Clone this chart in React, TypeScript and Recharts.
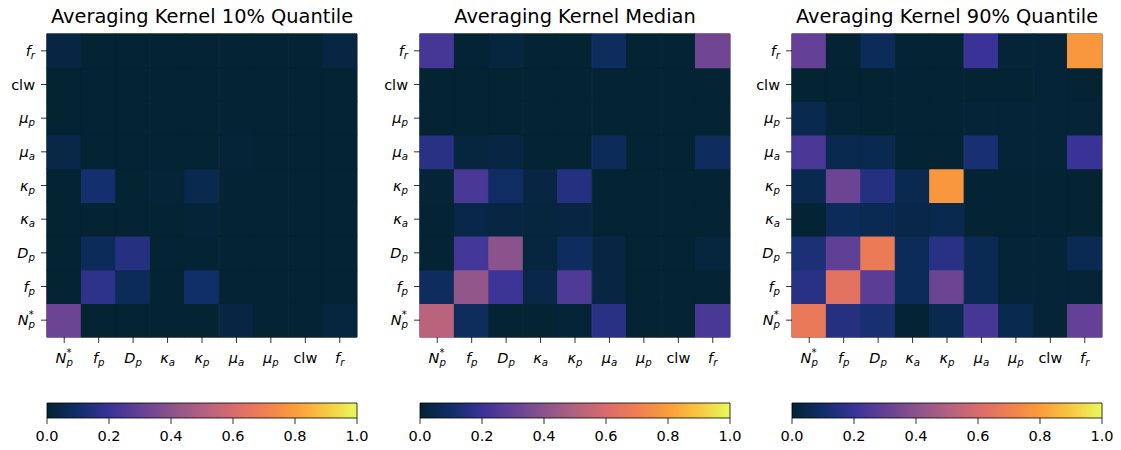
import React from "react";
import { BarChart, Bar, Cell, XAxis, YAxis, ReferenceArea, ComposedChart, Line } from "recharts";

// parameter order along both axes (x: left->right, y: bottom->top)
const PARAMS = ["Np*", "fp", "Dp", "ka", "kp", "ua", "up", "clw", "fr"];

// averaging kernel values, rows follow PARAMS (bottom row first), columns follow PARAMS
const q10Rows: number[][] = [
	[0.32, 0, 0, 0, 0, 0.03, 0, 0, 0.02], // Np*
	[0, 0.17, 0.07, 0, 0.1, 0, 0, 0, 0], // fp
	[0, 0.07, 0.15, 0, 0, 0, 0, 0, 0], // Dp
	[0, 0, 0, 0, 0.01, 0, 0, 0, 0], // ka
	[0, 0.11, 0, 0.01, 0.05, 0, 0, 0, 0], // kp
	[0.04, 0, 0, 0, 0, 0.01, 0, 0, 0], // ua
	[0, 0, 0, 0, 0, 0, 0, 0, 0], // up
	[0, 0, 0, 0, 0, 0, 0, 0, 0], // clw
	[0.03, 0, 0, 0, 0, 0, 0, 0, 0.03], // fr
];

const medianRows: number[][] = [
	[0.52, 0.08, 0, 0, 0.01, 0.16, 0, 0, 0.24],
	[0.08, 0.42, 0.21, 0.04, 0.25, 0.03, 0, 0, 0],
	[0, 0.22, 0.4, 0.02, 0.08, 0.03, 0, 0, 0.02],
	[0, 0.04, 0.03, 0.02, 0.03, 0, 0, 0, 0],
	[0.01, 0.24, 0.09, 0.03, 0.15, 0, 0, 0, 0],
	[0.16, 0.02, 0.03, 0, 0, 0.07, 0, 0, 0.08],
	[0, 0, 0, 0, 0, 0, 0, 0, 0],
	[0, 0, 0, 0, 0, 0, 0, 0, 0],
	[0.23, 0, 0.02, 0, 0, 0.08, 0, 0, 0.33],
];

const q90Rows: number[][] = [
	[0.67, 0.15, 0.12, 0, 0.05, 0.23, 0.05, 0.01, 0.3],
	[0.16, 0.64, 0.28, 0.07, 0.32, 0.06, 0.01, 0.01, 0.01],
	[0.13, 0.29, 0.68, 0.07, 0.16, 0.06, 0.01, 0.01, 0.06],
	[0, 0.07, 0.06, 0.04, 0.05, 0, 0, 0, 0],
	[0.05, 0.32, 0.15, 0.05, 0.78, 0, 0, 0, 0],
	[0.24, 0.05, 0.05, 0, 0, 0.12, 0.01, 0.01, 0.2],
	[0.05, 0.01, 0, 0, 0, 0.01, 0.01, 0.01, 0.01],
	[0, 0, 0, 0, 0, 0, 0, 0.01, 0],
	[0.3, 0, 0.07, 0, 0, 0.2, 0.01, 0.01, 0.78],
];

const CBAR_TICKS = [0, 0.2, 0.4, 0.6, 0.8, 1.0];
const Y_TICKS = [0.5, 1.5, 2.5, 3.5, 4.5, 5.5, 6.5, 7.5, 8.5];

// approximation of the cmocean "thermal" map
const THERMAL: [number, number, number][] = [
	[4, 35, 51],
	[16, 46, 104],
	[57, 51, 152],
	[100, 64, 150],
	[139, 83, 140],
	[178, 97, 128],
	[216, 107, 108],
	[240, 127, 80],
	[250, 157, 58],
	[246, 200, 66],
	[232, 250, 91],
];

function thermal(v: number) {
	const t = Math.max(0, Math.min(1, v)) * (THERMAL.length - 1);
	const i = Math.min(Math.floor(t), THERMAL.length - 2);
	const f = t - i;
	const c = THERMAL[i].map((a, k) => Math.round(a + (THERMAL[i + 1][k] - a) * f));
	return `rgb(${c[0]},${c[1]},${c[2]})`;
}

type Lbl = { base: string; sub?: string; sup?: string; italic: boolean };
const TICK_LABELS: Lbl[] = [
	{ base: "N", sub: "p", sup: "*", italic: true },
	{ base: "f", sub: "p", italic: true },
	{ base: "D", sub: "p", italic: true },
	{ base: "κ", sub: "a", italic: true },
	{ base: "κ", sub: "p", italic: true },
	{ base: "μ", sub: "a", italic: true },
	{ base: "μ", sub: "p", italic: true },
	{ base: "clw", italic: false },
	{ base: "f", sub: "r", italic: true },
];

const FONT = "DejaVu Sans";
const TICK_FS = 14.5;

function MathTick(props: any) {
	const { x, y, payload, side } = props;
	const idx = side === "x" ? PARAMS.indexOf(payload.value) : Math.round(payload.value - 0.5);
	const l = TICK_LABELS[idx];
	if (!l) return null;
	const tx = side === "x" ? x : x - 6;
	const ty = side === "x" ? y + 20 : y + 5;
	return (
		<text x={tx} y={ty} textAnchor={side === "x" ? "middle" : "end"} fontFamily={FONT} fontSize={TICK_FS} fill="#000">
			<tspan fontStyle={l.italic ? "italic" : "normal"}>{l.base}</tspan>
			{l.sub && <tspan fontSize={10.2} fontStyle="italic" dy={3}>{l.sub}</tspan>}
			{l.sup && <tspan fontSize={10.2} dx={-6.3} dy={-10}>{l.sup}</tspan>}
		</text>
	);
}

const tickLine = { stroke: "#000", strokeWidth: 0.8 };

function KernelPanel({ title, rows, left }: { title: string; rows: number[][]; left: number }) {
	const data = PARAMS.map((name) => {
		const d: any = { name };
		rows.forEach((_, i) => { d[`u${i}`] = 1; });
		return d;
	});
	return (
		<div style={{ position: "absolute", left: left - 47, top: 0, width: 362, height: 380 }}>
			<div style={{ position: "absolute", left: 47, width: 310, top: 5, lineHeight: "23px", textAlign: "center", fontFamily: FONT, fontSize: 19.4, color: "#000", whiteSpace: "nowrap" }}>
				{title}
			</div>
			<BarChart width={362} height={380} data={data} margin={{ top: 34, right: 5, bottom: 3, left: 0 }} barCategoryGap={0} barGap={0}>
				<XAxis dataKey="name" type="category" height={40} interval={0} tickSize={6} tickMargin={0} axisLine={false} tickLine={tickLine} tick={<MathTick side="x" />} />
				<YAxis type="number" domain={[0, 9]} ticks={Y_TICKS} width={47} tickSize={6} tickMargin={0} axisLine={false} tickLine={tickLine} tick={<MathTick side="y" />} />
				{rows.map((row, i) => (
					<Bar key={i} dataKey={`u${i}`} stackId="k" isAnimationActive={false}>
						{row.map((v, j) => (
							<Cell key={j} fill={thermal(v)} stroke={thermal(v)} strokeWidth={1.2} />
						))}
					</Bar>
				))}
				<ReferenceArea y1={0} y2={9} fill="none" stroke="#000" strokeWidth={0.8} />
			</BarChart>
		</div>
	);
}

const CBAR_DATA = [{ x: 0, y: 0 }, { x: 1, y: 1 }];

function ColorBar({ left, id }: { left: number; id: string }) {
	return (
		<div style={{ position: "absolute", left: left - 20, top: 390, width: 350, height: 60 }}>
			<ComposedChart width={350} height={60} data={CBAR_DATA} margin={{ top: 13, right: 20, bottom: 2, left: 20 }}>
				<defs>
					<linearGradient id={id} x1="0" y1="0" x2="1" y2="0">
						{THERMAL.map((c, i) => (
							<stop key={i} offset={i / (THERMAL.length - 1)} stopColor={`rgb(${c[0]},${c[1]},${c[2]})`} />
						))}
					</linearGradient>
				</defs>
				<XAxis dataKey="x" type="number" domain={[0, 1]} ticks={CBAR_TICKS} tickFormatter={(v: number) => v.toFixed(1)} height={30} tickSize={6} tickMargin={7} axisLine={false} tickLine={tickLine} tick={{ fill: "#000", fontSize: TICK_FS, fontFamily: FONT }} />
				<YAxis type="number" domain={[0, 1]} hide />
				<Line dataKey="y" stroke="none" dot={false} isAnimationActive={false} />
				<ReferenceArea x1={0} x2={1} y1={0} y2={1} fill={`url(#${id})`} fillOpacity={1} stroke="#000" strokeWidth={0.8} />
			</ComposedChart>
		</div>
	);
}

const PANELS = [
	{ title: "Averaging Kernel 10% Quantile", rows: q10Rows, left: 47 },
	{ title: "Averaging Kernel Median", rows: medianRows, left: 420 },
	{ title: "Averaging Kernel 90% Quantile", rows: q90Rows, left: 792 },
];

export default function App() {
	return (
		<div style={{ position: "absolute", left: 0, top: 0, width: 1121, height: 450, background: "#fff" }}>
			{PANELS.map((p, i) => (
				<React.Fragment key={i}>
					<KernelPanel title={p.title} rows={p.rows} left={p.left} />
					<ColorBar left={p.left} id={`thermal${i}`} />
				</React.Fragment>
			))}
		</div>
	);
}
